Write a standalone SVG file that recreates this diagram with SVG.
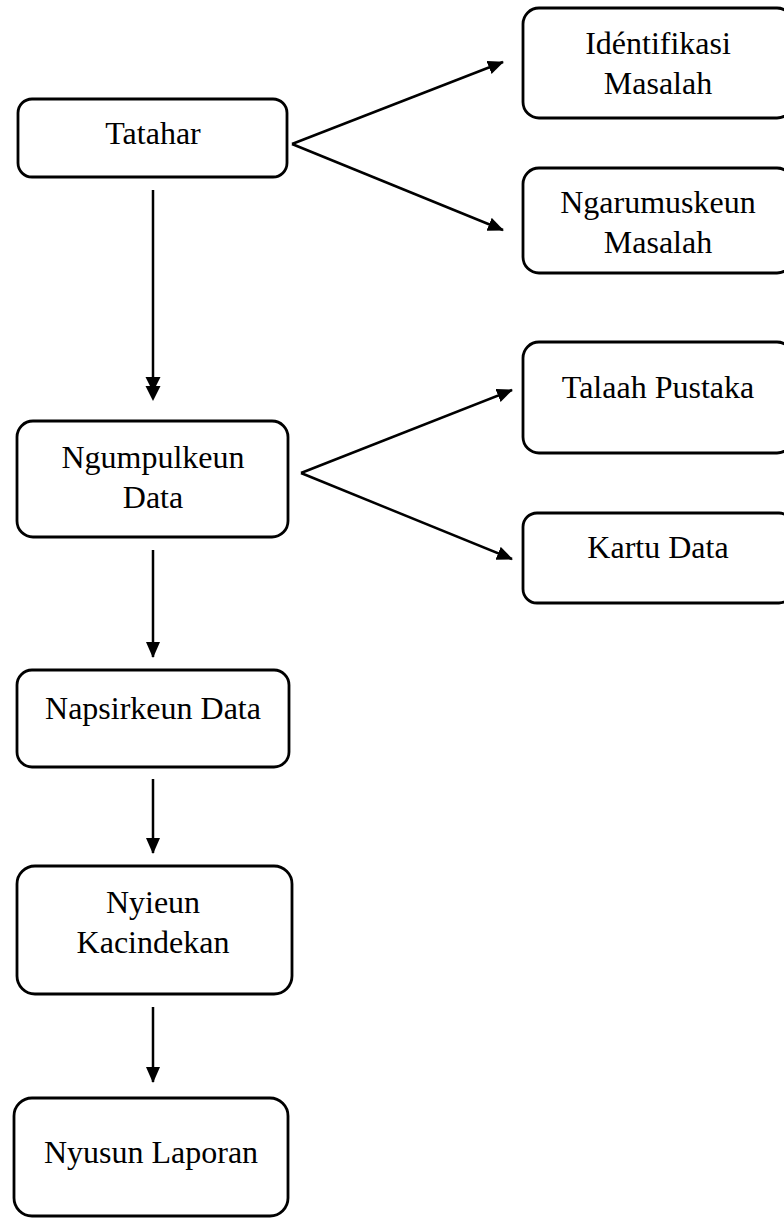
<svg xmlns="http://www.w3.org/2000/svg" width="784" height="1218" viewBox="0 0 784 1218">
<style>
.box{fill:#fff;stroke:#000;stroke-width:2.8}
.lbl{font-family:"Liberation Serif","Times New Roman",serif;font-size:32px;fill:#000;text-anchor:middle}
.con{stroke:#000;stroke-width:2.5;fill:none}
</style>
<defs>
<marker id="ah" markerUnits="userSpaceOnUse" markerWidth="17" markerHeight="15" refX="15" refY="7" orient="auto">
<path d="M0,0 L16,7 L0,14 z" fill="#000"/>
</marker>
</defs>
<rect width="784" height="1218" fill="#fff"/>
<g id="connectors">
<line class="con" x1="292" y1="144" x2="503" y2="62" marker-end="url(#ah)"/>
<line class="con" x1="292" y1="144" x2="503" y2="230" marker-end="url(#ah)"/>
<line class="con" x1="301" y1="473" x2="512" y2="390" marker-end="url(#ah)"/>
<line class="con" x1="301" y1="473" x2="512" y2="559" marker-end="url(#ah)"/>
<line class="con" x1="153" y1="190" x2="153" y2="386"/>
<polygon points="145.5,377 160.5,377 153,392" fill="#000"/>
<polygon points="145.5,386 160.5,386 153,401" fill="#000"/>
<line class="con" x1="153" y1="550" x2="153" y2="657" marker-end="url(#ah)"/>
<line class="con" x1="153" y1="779" x2="153" y2="853" marker-end="url(#ah)"/>
<line class="con" x1="153" y1="1007" x2="153" y2="1082" marker-end="url(#ah)"/>
</g>
<g id="tatahar">
<rect class="box" x="18" y="99" width="269" height="78" rx="14"/>
<text class="lbl" x="153" y="144">Tatahar</text>
</g>
<g id="identifikasi">
<rect class="box" x="523" y="8" width="270" height="110" rx="16"/>
<text class="lbl" x="658" y="54">Idéntifikasi</text>
<text class="lbl" x="658" y="94">Masalah</text>
</g>
<g id="ngarumuskeun">
<rect class="box" x="523" y="168" width="270" height="105" rx="16"/>
<text class="lbl" x="658" y="213">Ngarumuskeun</text>
<text class="lbl" x="658" y="253">Masalah</text>
</g>
<g id="ngumpulkeun">
<rect class="box" x="17" y="421" width="271" height="116" rx="16"/>
<text class="lbl" x="153" y="468">Ngumpulkeun</text>
<text class="lbl" x="153" y="508">Data</text>
</g>
<g id="talaah">
<rect class="box" x="523" y="342" width="270" height="111" rx="16"/>
<text class="lbl" x="658" y="398">Talaah Pustaka</text>
</g>
<g id="kartu">
<rect class="box" x="523" y="513" width="270" height="90" rx="14"/>
<text class="lbl" x="658" y="558">Kartu Data</text>
</g>
<g id="napsirkeun">
<rect class="box" x="17" y="670" width="272" height="97" rx="15"/>
<text class="lbl" x="153" y="719">Napsirkeun Data</text>
</g>
<g id="nyieun">
<rect class="box" x="17" y="866" width="275" height="128" rx="18"/>
<text class="lbl" x="153" y="913">Nyieun</text>
<text class="lbl" x="153" y="953">Kacindekan</text>
</g>
<g id="nyusun">
<rect class="box" x="14" y="1098" width="274" height="118" rx="18"/>
<text class="lbl" x="151" y="1163">Nyusun Laporan</text>
</g>
</svg>
